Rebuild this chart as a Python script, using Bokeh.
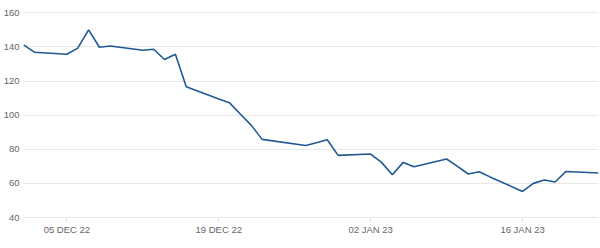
import pandas as pd
from bokeh.plotting import figure
from bokeh.models import FixedTicker, Range1d
from bokeh.embed import file_html
from bokeh.resources import INLINE

dates = ["2022-12-01", "2022-12-02", "2022-12-05", "2022-12-06", "2022-12-07",
         "2022-12-08", "2022-12-09", "2022-12-12", "2022-12-13", "2022-12-14",
         "2022-12-15", "2022-12-16", "2022-12-19", "2022-12-20", "2022-12-21",
         "2022-12-22", "2022-12-23", "2022-12-27", "2022-12-28", "2022-12-29",
         "2022-12-30", "2023-01-02", "2023-01-03", "2023-01-04", "2023-01-05",
         "2023-01-06", "2023-01-09", "2023-01-10", "2023-01-11", "2023-01-12",
         "2023-01-13", "2023-01-16", "2023-01-17", "2023-01-18", "2023-01-19",
         "2023-01-20", "2023-01-23"]
values = [141.2, 136.9, 135.7, 139.3, 150.0,
          139.8, 140.5, 138.0, 138.6, 132.6,
          135.7, 116.6, 109.5, 107.2, 100.5,
          94.0, 85.8, 82.2, 83.8, 85.6,
          76.4, 77.2, 72.3, 65.1, 72.3,
          69.8, 74.3, 70.0, 65.5, 66.8,
          63.8, 55.3, 60.0, 62.0, 60.8,
          67.0, 66.1]
tick_dates = ["2022-12-05", "2022-12-19", "2023-01-02", "2023-01-16"]
tick_labels = ["05 DEC 22", "19 DEC 22", "02 JAN 23", "16 JAN 23"]
y_ticks = [40, 60, 80, 100, 120, 140, 160]

x = pd.to_datetime(dates)
tick_ms = [float(pd.Timestamp(d).value // 10**6) for d in tick_dates]

p = figure(width=600, height=248, x_axis_type="datetime",
           output_backend="svg", toolbar_location=None,
           x_range=Range1d(x[0], x[-1]), y_range=Range1d(40, 167.2),
           min_border_left=0, min_border_right=2, min_border_top=0,
           min_border_bottom=31)
p.outline_line_color = None
p.background_fill_color = "white"
p.border_fill_color = "white"

p.line(x, values, line_color="#1f5894", line_width=1.6)

grid_color = "#e8e8e8"
p.xgrid.grid_line_color = None
p.ygrid.grid_line_color = grid_color
p.ygrid.grid_line_width = 1

font = "Liberation Sans"
lab_color = "#666666"

xa = p.xaxis[0]
xa.ticker = FixedTicker(ticks=tick_ms)
xa.major_label_overrides = {t: l for t, l in zip(tick_ms, tick_labels)}
xa.axis_line_color = grid_color
xa.major_tick_line_color = grid_color
xa.major_tick_in = 0
xa.major_tick_out = 5
xa.minor_tick_line_color = None
xa.major_label_text_font = font
xa.major_label_text_font_size = "9.5px"
xa.major_label_text_color = lab_color
xa.major_label_standoff = 1

ya = p.yaxis[0]
ya.ticker = FixedTicker(ticks=y_ticks)
ya.axis_line_color = None
ya.major_tick_line_color = None
ya.minor_tick_line_color = None
ya.major_tick_in = 0
ya.major_tick_out = 0
ya.major_label_text_font = font
ya.major_label_text_font_size = "9.5px"
ya.major_label_text_color = lab_color
ya.major_label_standoff = 4

open("out.html", "w").write(file_html(p, INLINE))
